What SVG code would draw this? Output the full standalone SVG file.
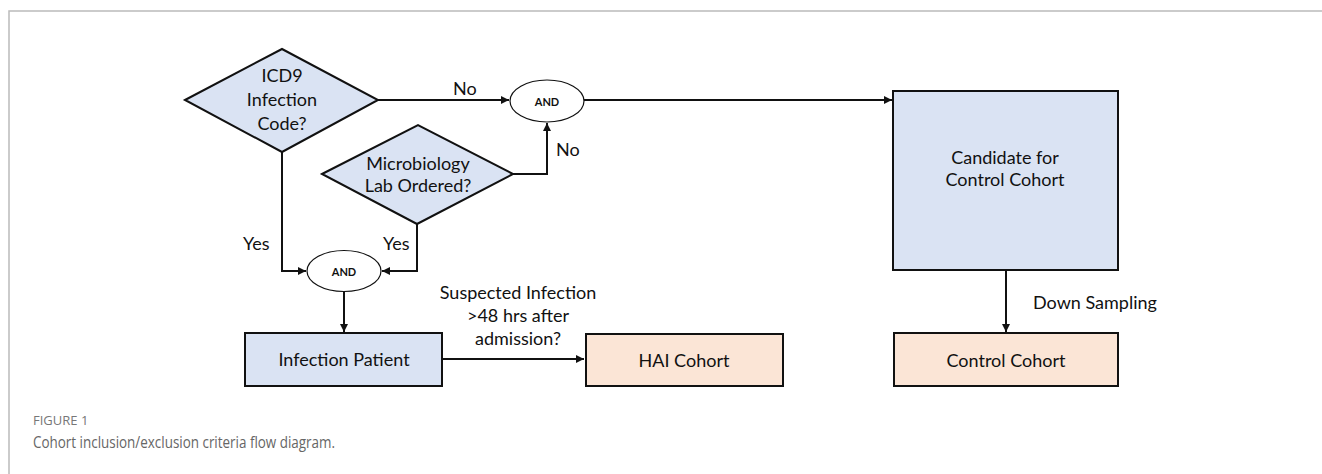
<svg xmlns="http://www.w3.org/2000/svg" width="1322" height="474" viewBox="0 0 1322 474">
<style>
.t{font-family:Lato,"Open Sans",sans-serif;font-size:18px;fill:#111;text-anchor:middle;dominant-baseline:central}
.lbl{font-family:Lato,"Open Sans",sans-serif;font-size:18px;fill:#111;dominant-baseline:central}
.and{font-family:Lato,"Open Sans",sans-serif;font-size:11px;font-weight:bold;fill:#111;text-anchor:middle;dominant-baseline:central}
.blue{fill:#dae3f3;stroke:#111;stroke-width:2}
.peach{fill:#fbe5d6;stroke:#111;stroke-width:2}
.ell{fill:#fff;stroke:#111;stroke-width:1.2}
.c{fill:none;stroke:#111;stroke-width:2;marker-end:url(#ah)}
.cap1{font-family:"Open Sans",sans-serif;font-size:13px;fill:#777}
.cap2{font-family:"Open Sans",sans-serif;font-size:16px;fill:#666}
</style>
<defs>
<marker id="ah" viewBox="0 0 10 10" refX="10" refY="5" markerWidth="4" markerHeight="4" orient="auto" markerUnits="strokeWidth">
<path d="M0,0 L10,5 L0,10 z" fill="#111"/>
</marker>
</defs>
<rect width="1322" height="474" fill="#fff"/>
<path d="M9,474 V11 H1322" fill="none" stroke="#bbb" stroke-width="1.5"/>

<g id="connectors">
<path class="c" d="M378,100 H509"/>
<path class="c" d="M513,174 H547 V123"/>
<path class="c" d="M584,100 H892"/>
<path class="c" d="M282,152 V271 H306"/>
<path class="c" d="M417,224 V271 H382"/>
<path class="c" d="M344,292 V332"/>
<path class="c" d="M442,359 H584"/>
<path class="c" d="M1006,271 V332"/>
<text class="lbl" x="453" y="88">No</text>
<text class="lbl" x="556" y="149">No</text>
<text class="lbl" x="243" y="243">Yes</text>
<text class="lbl" x="383" y="243">Yes</text>
<text class="t" x="518" y="292">Suspected Infection</text>
<text class="t" x="518" y="315">&gt;48 hrs after</text>
<text class="t" x="518" y="338">admission?</text>
<text class="lbl" x="1033" y="302">Down Sampling</text>
</g>

<g id="icd9">
<polygon class="blue" points="185,100 282,49 378,100 282,152"/>
<text class="t" x="282" y="75">ICD9</text>
<text class="t" x="282" y="99">Infection</text>
<text class="t" x="282" y="123">Code?</text>
</g>
<g id="micro">
<polygon class="blue" points="322,174 418,125 513,174 417,224"/>
<text class="t" x="418" y="163">Microbiology</text>
<text class="t" x="418" y="185">Lab Ordered?</text>
</g>
<g id="and1">
<ellipse class="ell" cx="547" cy="101" rx="37" ry="21"/>
<text class="and" x="547" y="101">AND</text>
</g>
<g id="and2">
<ellipse class="ell" cx="344" cy="271" rx="37" ry="20.5"/>
<text class="and" x="344" y="271">AND</text>
</g>
<g id="infection">
<rect class="blue" x="245" y="333" width="197" height="53"/>
<text class="t" x="344" y="359">Infection Patient</text>
</g>
<g id="hai">
<rect class="peach" x="586" y="334" width="197" height="52"/>
<text class="t" x="684" y="360">HAI Cohort</text>
</g>
<g id="candidate">
<rect class="blue" x="893" y="91" width="225" height="179"/>
<text class="t" x="1005" y="157">Candidate for</text>
<text class="t" x="1005" y="179">Control Cohort</text>
</g>
<g id="control">
<rect class="peach" x="894" y="333" width="224" height="53"/>
<text class="t" x="1006" y="360">Control Cohort</text>
</g>
<text class="cap1" x="33" y="425">FIGURE 1</text>
<text class="cap2" x="33" y="448" textLength="302" lengthAdjust="spacingAndGlyphs">Cohort inclusion/exclusion criteria flow diagram.</text>
</svg>
